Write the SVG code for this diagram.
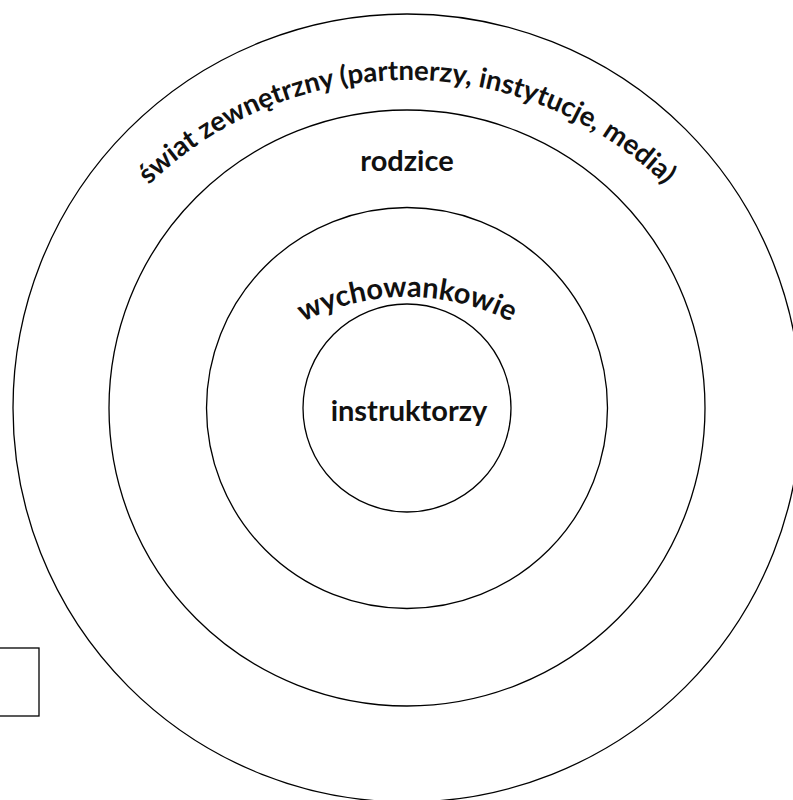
<svg xmlns="http://www.w3.org/2000/svg" width="793" height="800" viewBox="0 0 793 800">
<style>
.ring{fill:none;stroke:#000;stroke-width:1.3}
.lbl{font-family:Lato,"Liberation Sans",sans-serif;font-weight:700;font-size:29px;fill:#111}
.big{font-size:27.5px}
</style>
<defs>
<path id="arcOuter" d="M 37 450 A 370 370 0 0 1 777 450"/>
<path id="arcW" d="M 177 527 A 230 230 0 0 1 637 527"/>
</defs>
<rect width="793" height="800" fill="#fff"/>
<g id="outer">
<circle class="ring" cx="407" cy="408" r="394"/>
<text class="lbl big"><textPath href="#arcOuter" startOffset="50%" text-anchor="middle">świat zewnętrzny (partnerzy, instytucje, media)</textPath></text>
</g>
<g id="rodzice">
<circle class="ring" cx="407" cy="408" r="298"/>
<text class="lbl" x="407" y="171" text-anchor="middle">rodzice</text>
</g>
<g id="wychowankowie">
<circle class="ring" cx="407" cy="408" r="200.5"/>
<text class="lbl"><textPath href="#arcW" startOffset="50%" text-anchor="middle">wychowankowie</textPath></text>
</g>
<g id="instruktorzy">
<circle class="ring" cx="407" cy="408" r="104"/>
<text class="lbl" x="409" y="421" text-anchor="middle">instruktorzy</text>
</g>
<g id="box">
<rect x="-10" y="648" width="49" height="68" fill="none" stroke="#000" stroke-width="1.3"/>
</g>
<g id="connectors"/>
</svg>
